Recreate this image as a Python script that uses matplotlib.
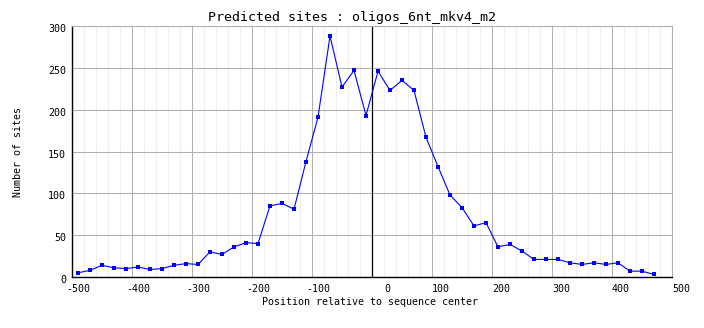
import numpy as np
import matplotlib
matplotlib.use("Agg")
import matplotlib.pyplot as plt
import matplotlib.transforms as mtransforms
from matplotlib.ticker import MultipleLocator

# positions (bin centres) and number of predicted sites
positions = [-490, -470, -450, -430, -410, -390, -370, -350, -330, -310,
             -290, -270, -250, -230, -210, -190, -170, -150, -130, -110,
             -90, -70, -50, -30, -10, 10, 30, 50, 70, 90,
             110, 130, 150, 170, 190, 210, 230, 250, 270, 290,
             310, 330, 350, 370, 390, 410, 430, 450, 470]
sites = [5, 8, 14, 11, 10, 12, 9, 10, 14, 16,
         15, 30, 27, 36, 41, 40, 85, 88, 81, 138,
         191, 288, 227, 247, 193, 246, 223, 235, 223, 167,
         132, 98, 83, 61, 65, 36, 39, 31, 21, 21,
         21, 17, 15, 17, 15, 17, 7, 7, 3]

xticks = [-500, -400, -300, -200, -100, 0, 100, 200, 300, 400, 500]
yticks = [0, 50, 100, 150, 200, 250, 300]

plt.rcParams['font.family'] = ['DejaVu Sans Mono']

fig = plt.figure(figsize=(7.04, 3.28), dpi=100)
ax = fig.add_axes([72/704, 1-277/328, 600/704, 251/328])

# grid
ax.set_xlim(-500, 500)
ax.set_ylim(0, 300)
ax.xaxis.set_minor_locator(MultipleLocator(20))
ax.grid(which='minor', axis='x', color='#efefef', linewidth=0.75)
ax.grid(which='major', axis='both', color='#b0b0b0', linewidth=0.75)
ax.set_axisbelow(True)

ax.axvline(0, color='black', linewidth=0.9)
ax.plot(positions, sites, color='#0000ff', linewidth=0.8,
        marker='s', markersize=2.6, markeredgewidth=0)

for s in ['top', 'right']:
    ax.spines[s].set_color('#b0b0b0')
    ax.spines[s].set_linewidth(0.75)
for s in ['left', 'bottom']:
    ax.spines[s].set_color('black')
    ax.spines[s].set_linewidth(1)

ax.set_xticks(xticks)
ax.set_yticks(yticks)
ax.tick_params(which='both', length=0)
ax.tick_params(axis='y', pad=4.3)

# x tick labels: digits start at the tick, minus sign hangs to the left
for t in xticks:
    if t < 0:
        dx = -6
    elif t == 0:
        dx = 12
    else:
        dx = 0
    off = mtransforms.ScaledTranslation(dx/100, 0, fig.dpi_scale_trans)
    ax.text(t, -15/251, str(t), transform=ax.get_xaxis_transform() + off,
            ha='left', va='baseline', fontsize=7.2, clip_on=False)
ax.set_xticklabels([])
ax.set_yticklabels([str(t) for t in yticks], fontsize=7.2)
for lab in ax.get_yticklabels():
    lab.set_transform(lab.get_transform() +
                      mtransforms.ScaledTranslation(0, -2/100, fig.dpi_scale_trans))

fig.text(352/704, 1-17/328, "Predicted sites : oligos_6nt_mkv4_m2",
         ha='center', va='center', fontsize=9.6)
fig.text(370/704, 1-302/328, "Position relative to sequence center",
         ha='center', va='center', fontsize=7.2)
fig.text(18/704, 1-152/328, "Number of sites", rotation=90,
         ha='center', va='center', fontsize=7.2)

fig.savefig("out.png", dpi=100)
